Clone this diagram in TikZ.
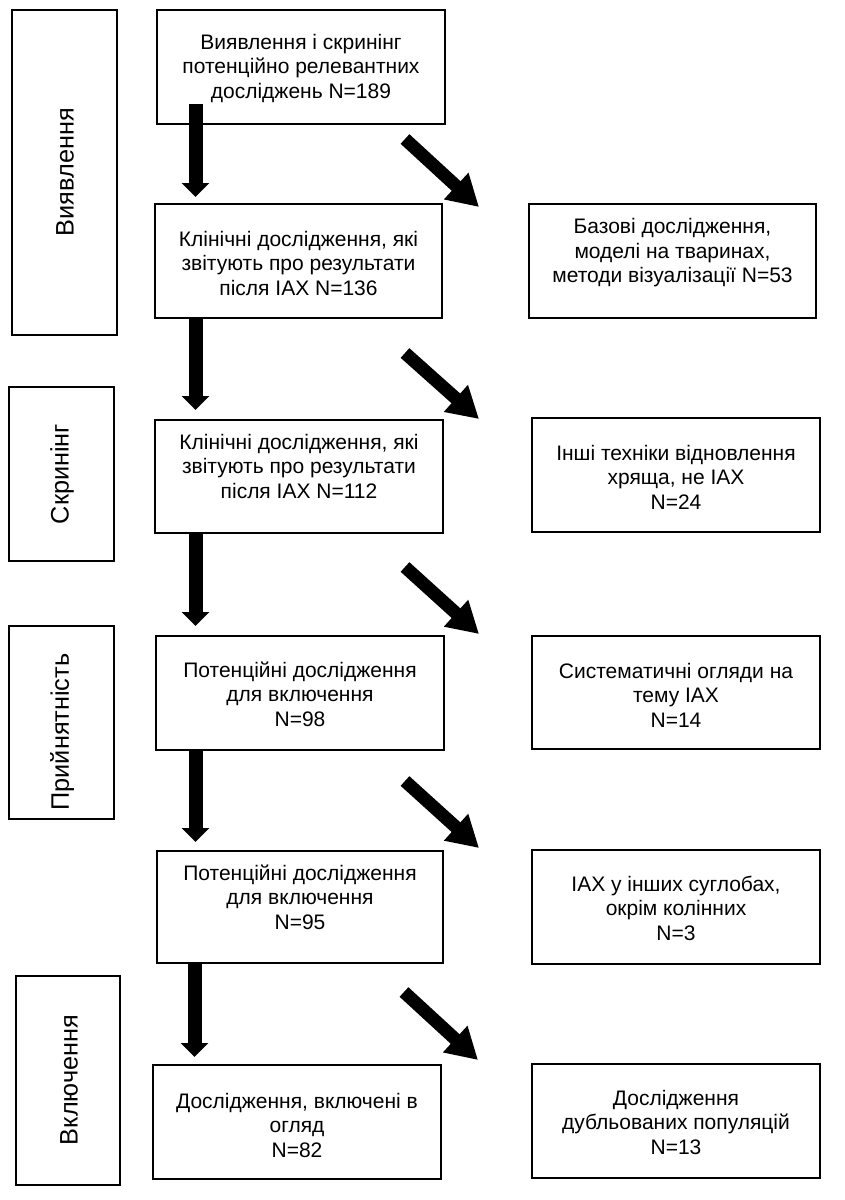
\documentclass[tikz,border=0pt]{standalone}
\usepackage{fontspec}
\setmainfont{Liberation Sans}
\usetikzlibrary{arrows.meta}
\tikzset{
  box/.style={draw=black, line width=2pt, inner sep=0pt, fill=white},
  txt/.style={align=center, inner sep=0pt, font=\fontsize{21}{24.5}\selectfont},
  side/.style={rotate=90, inner sep=0pt, font=\fontsize{25.3}{28}\selectfont},
  downarr/.style={line width=14pt, -{Triangle[width=27pt,length=14pt]}},
  diagarr/.style={line width=13pt, -{Triangle[width=34pt,length=31pt]}}
}
\begin{document}
\begin{tikzpicture}[x=1pt,y=-1pt]
\useasboundingbox[fill=white] (0,0) rectangle (845,1200);
% left stage boxes
\node[box, minimum width=105pt, minimum height=325pt] (L1) at (64.5,172.5) {};
\node[box, minimum width=105pt, minimum height=174pt] (L2) at (61.5,474) {};
\node[box, minimum width=105pt, minimum height=193pt] (L3) at (61.5,722.5) {};
\node[box, minimum width=104pt, minimum height=209pt] (L4) at (68,1080.5) {};
\node[side] (t1) at (65,172) {Виявлення};
\node[side] (t2) at (62,474) {Скринінг};
\node[side] (t3) at (62,732) {Прийнятність};
\node[side] (t4) at (69,1080) {Включення};
% main column
\node[box, minimum width=288pt, minimum height=114pt] (b1) at (301,67) {};
\node[box, minimum width=287pt, minimum height=114pt] (b2) at (298.5,261) {};
\node[box, minimum width=288pt, minimum height=113pt] (b3) at (299,476.5) {};
\node[box, minimum width=288pt, minimum height=114pt] (b4) at (300,693) {};
\node[box, minimum width=286pt, minimum height=112pt] (b5) at (300,907) {};
\node[box, minimum width=288pt, minimum height=114pt] (b6) at (297,1122) {};
\node[txt] (tb1) at (301,68) {Виявлення і скринінг\\потенційно релевантних\\досліджень N=189};
\node[txt] (tb2) at (298.5,263) {Клінічні дослідження, які\\звітують про результати\\після IAX N=136};
\node[txt] (tb3) at (299,466) {Клінічні дослідження, які\\звітують про результати\\після IAX N=112};
\node[txt] (tb4) at (300,694) {Потенційні дослідження\\для включення\\N=98};
\node[txt] (tb5) at (300,897) {Потенційні дослідження\\для включення\\N=95};
\node[txt] (tb6) at (297,1125) {Дослідження, включені в\\огляд\\N=82};
% right column
\node[box, minimum width=287pt, minimum height=114pt] (r1) at (672.5,261) {};
\node[box, minimum width=288pt, minimum height=114pt] (r2) at (676,475) {};
\node[box, minimum width=288pt, minimum height=113pt] (r3) at (676,692.5) {};
\node[box, minimum width=288pt, minimum height=114pt] (r4) at (676,907) {};
\node[box, minimum width=288pt, minimum height=114pt] (r5) at (676,1121) {};
\node[txt] (tr1) at (672.5,253) {Базові дослідження,\\моделі на тваринах,\\методи візуалізації N=53};
\node[txt] (tr2) at (676,477) {Інші техніки відновлення\\хряща, не IAX\\N=24};
\node[txt] (tr3) at (676,695) {Систематичні огляди на\\тему IAX\\N=14};
\node[txt] (tr4) at (676,908) {IAX у інших суглобах,\\окрім колінних\\N=3};
\node[txt] (tr5) at (676,1122) {Дослідження\\дубльованих популяцій\\N=13};
% arrow end points
\coordinate (d1s) at (195.5,104);  \coordinate (d1e) at (195.5,197);
\coordinate (d2s) at (195.5,318);  \coordinate (d2e) at (195.5,410);
\coordinate (d3s) at (195.5,533);  \coordinate (d3e) at (195.5,626);
\coordinate (d4s) at (195.5,750);  \coordinate (d4e) at (195.5,842);
\coordinate (d5s) at (194.5,963);  \coordinate (d5e) at (194.5,1057);
\coordinate (g1s) at (405,139);  \coordinate (g1e) at (479,207);
\coordinate (g2s) at (405,353);  \coordinate (g2e) at (479,419);
\coordinate (g3s) at (405,567);  \coordinate (g3e) at (479,634);
\coordinate (g4s) at (405,781);  \coordinate (g4e) at (479,848);
\coordinate (g5s) at (404,992);  \coordinate (g5e) at (478,1060);
\draw[downarr] (d1s) -- (d1e);
\draw[downarr] (d2s) -- (d2e);
\draw[downarr] (d3s) -- (d3e);
\draw[downarr] (d4s) -- (d4e);
\draw[downarr] (d5s) -- (d5e);
\draw[diagarr] (g1s) -- (g1e);
\draw[diagarr] (g2s) -- (g2e);
\draw[diagarr] (g3s) -- (g3e);
\draw[diagarr] (g4s) -- (g4e);
\draw[diagarr] (g5s) -- (g5e);
\end{tikzpicture}
\end{document}
